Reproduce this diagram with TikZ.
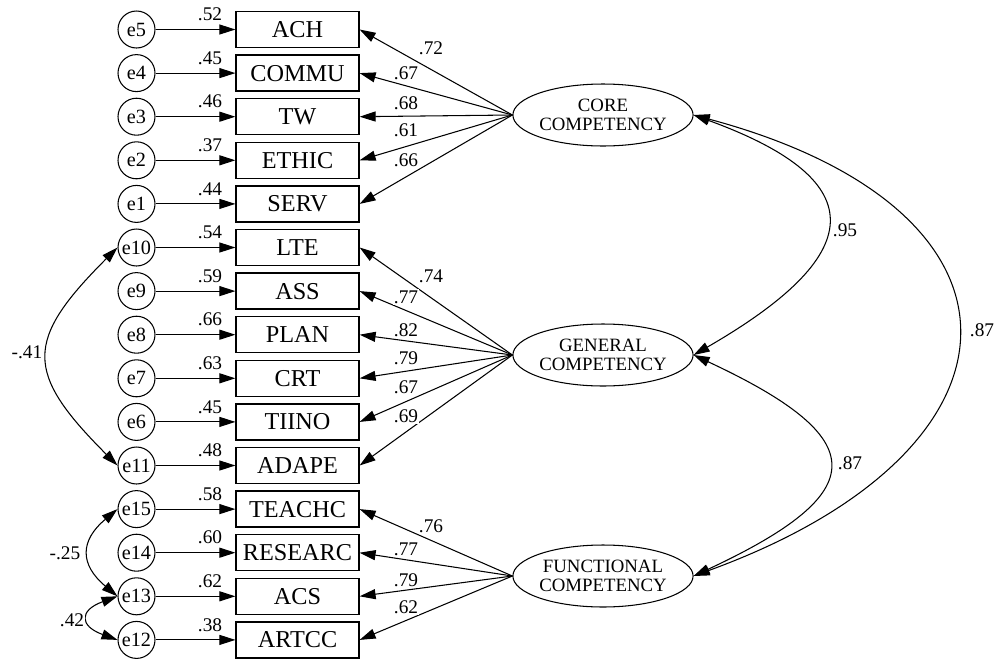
\documentclass[tikz,border=0pt]{standalone}
\usepackage{fontspec}
\setmainfont{Liberation Serif}
\usetikzlibrary{arrows.meta,shapes.geometric}

\begin{document}
\begin{tikzpicture}[x=0.02cm,y=0.02cm,
    err/.style={draw,circle,minimum size=0.74cm,inner sep=0pt,line width=0.6pt,
      font=\fontsize{11.5}{12}\selectfont},
    obs/.style={draw,rectangle,minimum width=2.46cm,minimum height=0.72cm,inner sep=0pt,
      line width=0.7pt,font=\fontsize{13.8}{14}\selectfont},
    lat/.style={draw,ellipse,minimum width=3.6cm,minimum height=1.24cm,inner sep=0pt,
      align=center,line width=0.6pt,font=\fontsize{10.7}{10.5}\selectfont},
    arr/.style={line width=0.6pt,-{Triangle[length=3.2mm,width=2mm]}},
    cov/.style={line width=0.6pt,{Triangle[length=3.2mm,width=2mm]}-{Triangle[length=3.2mm,width=2mm]}},
    lbl/.style={fill=white,inner sep=0.6pt,font=\fontsize{11}{12}\selectfont}]
  \useasboundingbox (0,0) rectangle (998,-660);
  % indicators with their error terms
  \foreach \e/\v/\r [count=\i from 0] in {e5/ACH/.52,e4/COMMU/.45,e3/TW/.46,e2/ETHIC/.37,
      e1/SERV/.44,e10/LTE/.54,e9/ASS/.59,e8/PLAN/.66,e7/CRT/.63,e6/TIINO/.45,e11/ADAPE/.48,
      e15/TEACHC/.58,e14/RESEARC/.60,e13/ACS/.62,e12/ARTCC/.38} {
    \node[err] (\e) at (136.5,-29.5-43.6*\i) {\e};
    \node[obs] (\v) at (297.5,-29.5-43.6*\i) {\v};
    \draw[arr] (\e) -- (\v);
    \node[lbl] (r-\v) at (210,-14.5-43.6*\i) {\r};
  }
  \node[lat] (core) at (603,-115) {CORE\\COMPETENCY};
  \node[lat] (general) at (603,-355) {GENERAL\\COMPETENCY};
  \node[lat] (functional) at (603,-576) {FUNCTIONAL\\COMPETENCY};
  % loadings
  \foreach \f/\v/\l/\lx/\ly in {core/ACH/.72/431/48,core/COMMU/.67/406/73,core/TW/.68/406/103,
      core/ETHIC/.61/406/130,core/SERV/.66/406/160,general/LTE/.74/431/276,
      general/ASS/.77/406/297,general/PLAN/.82/406/330,general/CRT/.79/406/358,
      general/TIINO/.67/406/387,general/ADAPE/.69/406/416,functional/TEACHC/.76/431/526,
      functional/RESEARC/.77/406/549,functional/ACS/.79/406/580,functional/ARTCC/.62/406/607} {
    \draw[arr] (\f.west) -- (\v.east);
    \node[lbl] (l-\v) at (\lx,-\ly) {\l};
  }
  % error covariances
  \draw[cov] (e10.west) to[out=225,in=135,looseness=1.55] (e11.west);
  \draw[cov] (e15.west) to[out=220,in=140,looseness=1.45] (e13.west);
  \draw[cov] (e13.west) to[out=200,in=160,looseness=2.4] (e12.west);
  \node[lbl] (c-e10) at (27,-352) {-.41};
  \node[lbl] (c-e15) at (65,-553) {-.25};
  \node[lbl] (c-e13) at (72,-620) {.42};
  % factor correlations
  \draw[cov] (core.east) to[out=-20,in=30,looseness=2.1] (general.east);
  \draw[cov] (general.east) to[out=-25,in=25,looseness=2.3] (functional.east);
  \draw[cov] (core.east) to[out=-15,in=20,looseness=2.05] (functional.east);
  \node[lbl] (c-cg) at (845,-230) {.95};
  \node[lbl] (c-gf) at (850,-463) {.87};
  \node[lbl] (c-cf) at (982,-330) {.87};
\end{tikzpicture}
\end{document}
